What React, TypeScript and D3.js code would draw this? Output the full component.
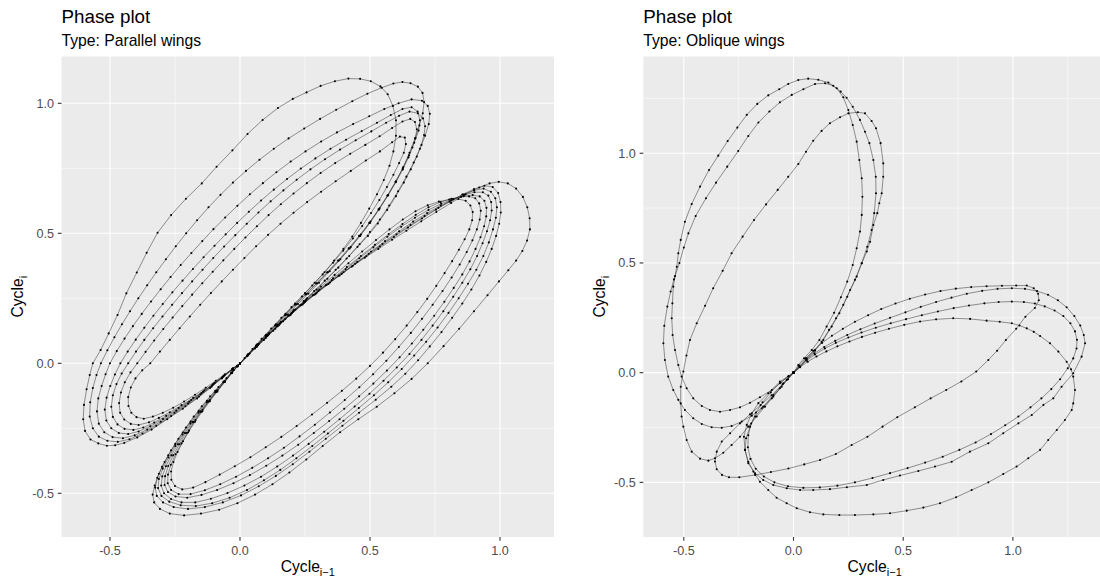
import React, { useEffect } from "react";
import * as d3 from "d3";

type Pt = [number, number];

// ---------- Parallel wings: upper-left lobe loops ----------
const parallelUpper1: Pt[] = [[0,0],[-0.03,-0.025],[-0.07,-0.058],[-0.115,-0.095],[-0.165,-0.135],[-0.22,-0.175],[-0.28,-0.215],[-0.34,-0.255],[-0.395,-0.285],[-0.445,-0.306],[-0.48,-0.315],[-0.512,-0.317],[-0.545,-0.308],[-0.575,-0.293],[-0.596,-0.26],[-0.603,-0.215],[-0.6,-0.16],[-0.59,-0.1],[-0.578,-0.045],[-0.566,0],[-0.536,0.051],[-0.505,0.115],[-0.471,0.186],[-0.437,0.269],[-0.397,0.349],[-0.359,0.425],[-0.317,0.502],[-0.265,0.57],[-0.208,0.633],[-0.147,0.692],[-0.09,0.756],[-0.029,0.819],[0.029,0.882],[0.087,0.936],[0.146,0.982],[0.203,1.017],[0.256,1.042],[0.31,1.067],[0.365,1.085],[0.417,1.095],[0.462,1.094],[0.503,1.085],[0.54,1.065],[0.568,1.035],[0.588,0.99],[0.6,0.935],[0.6,0.875],[0.59,0.815],[0.575,0.76],[0.553,0.705],[0.527,0.65],[0.497,0.595],[0.465,0.54],[0.432,0.488],[0.398,0.44],[0.362,0.395],[0.325,0.35],[0.287,0.31],[0.25,0.27],[0.212,0.23],[0.175,0.19],[0.138,0.15],[0.1,0.11],[0.065,0.072],[0.032,0.036],[0,0]];
const parallelUpper2: Pt[] = [[0,0],[-0.03,-0.024],[-0.068,-0.055],[-0.11,-0.09],[-0.158,-0.128],[-0.21,-0.165],[-0.265,-0.203],[-0.322,-0.24],[-0.375,-0.27],[-0.425,-0.292],[-0.47,-0.302],[-0.51,-0.298],[-0.543,-0.282],[-0.566,-0.25],[-0.578,-0.205],[-0.576,-0.15],[-0.566,-0.095],[-0.552,-0.045],[-0.535,0],[-0.51,0.05],[-0.483,0.1],[-0.454,0.15],[-0.423,0.2],[-0.391,0.25],[-0.357,0.3],[-0.322,0.35],[-0.285,0.4],[-0.247,0.45],[-0.207,0.5],[-0.165,0.55],[-0.121,0.6],[-0.075,0.648],[-0.027,0.695],[0.023,0.74],[0.075,0.783],[0.13,0.825],[0.187,0.865],[0.247,0.903],[0.308,0.94],[0.37,0.975],[0.432,1.008],[0.49,1.037],[0.545,1.06],[0.59,1.076],[0.625,1.082],[0.656,1.077],[0.684,1.064],[0.702,1.04],[0.708,1.005],[0.703,0.962],[0.69,0.915],[0.673,0.865],[0.652,0.81],[0.628,0.755],[0.6,0.7],[0.568,0.645],[0.535,0.592],[0.5,0.54],[0.462,0.49],[0.422,0.442],[0.38,0.395],[0.338,0.35],[0.296,0.308],[0.256,0.267],[0.216,0.227],[0.177,0.187],[0.138,0.147],[0.1,0.107],[0.064,0.068],[0.03,0.032],[0,0]];
const parallelUpper3: Pt[] = [[0,0],[-0.03,-0.023],[-0.066,-0.052],[-0.107,-0.085],[-0.152,-0.12],[-0.2,-0.155],[-0.252,-0.19],[-0.305,-0.225],[-0.357,-0.255],[-0.405,-0.277],[-0.45,-0.288],[-0.49,-0.284],[-0.522,-0.265],[-0.543,-0.232],[-0.55,-0.185],[-0.545,-0.135],[-0.532,-0.087],[-0.517,-0.042],[-0.5,0],[-0.474,0.047],[-0.444,0.095],[-0.412,0.143],[-0.378,0.19],[-0.342,0.238],[-0.305,0.285],[-0.267,0.332],[-0.228,0.378],[-0.187,0.424],[-0.145,0.47],[-0.102,0.516],[-0.057,0.561],[-0.01,0.606],[0.038,0.65],[0.088,0.693],[0.14,0.735],[0.195,0.776],[0.252,0.815],[0.312,0.853],[0.373,0.888],[0.435,0.92],[0.497,0.95],[0.555,0.978],[0.61,1.0],[0.66,1.015],[0.7,1.01],[0.722,0.99],[0.73,0.96],[0.726,0.92],[0.712,0.875],[0.692,0.825],[0.668,0.772],[0.64,0.718],[0.608,0.662],[0.574,0.607],[0.538,0.553],[0.5,0.505],[0.46,0.458],[0.42,0.413],[0.378,0.368],[0.336,0.325],[0.294,0.284],[0.253,0.245],[0.213,0.207],[0.174,0.17],[0.136,0.133],[0.099,0.097],[0.064,0.063],[0.03,0.03],[0,0]];
const parallelUpper4: Pt[] = [[0,0],[-0.029,-0.022],[-0.064,-0.05],[-0.104,-0.081],[-0.148,-0.114],[-0.195,-0.148],[-0.245,-0.182],[-0.296,-0.214],[-0.345,-0.242],[-0.39,-0.262],[-0.43,-0.272],[-0.466,-0.268],[-0.495,-0.25],[-0.514,-0.22],[-0.52,-0.178],[-0.513,-0.132],[-0.499,-0.087],[-0.481,-0.043],[-0.46,0],[-0.432,0.045],[-0.401,0.091],[-0.368,0.137],[-0.333,0.183],[-0.297,0.228],[-0.26,0.273],[-0.221,0.318],[-0.181,0.363],[-0.14,0.408],[-0.098,0.452],[-0.055,0.496],[-0.011,0.54],[0.034,0.583],[0.081,0.626],[0.13,0.668],[0.181,0.709],[0.234,0.749],[0.29,0.788],[0.348,0.825],[0.408,0.86],[0.468,0.893],[0.527,0.925],[0.58,0.955],[0.625,0.978],[0.66,0.985],[0.683,0.968],[0.692,0.935],[0.687,0.895],[0.67,0.848],[0.65,0.8],[0.626,0.75],[0.598,0.698],[0.567,0.645],[0.533,0.592],[0.497,0.54],[0.458,0.49],[0.418,0.442],[0.377,0.395],[0.335,0.35],[0.293,0.307],[0.252,0.265],[0.212,0.225],[0.173,0.185],[0.135,0.145],[0.098,0.106],[0.062,0.068],[0.03,0.033],[0,0]];
const parallelUpper5: Pt[] = [[0,0],[-0.028,-0.021],[-0.062,-0.048],[-0.1,-0.078],[-0.142,-0.109],[-0.188,-0.141],[-0.236,-0.172],[-0.284,-0.202],[-0.33,-0.228],[-0.372,-0.247],[-0.41,-0.256],[-0.444,-0.252],[-0.471,-0.235],[-0.489,-0.206],[-0.495,-0.167],[-0.489,-0.123],[-0.475,-0.08],[-0.455,-0.039],[-0.43,0],[-0.4,0.045],[-0.368,0.09],[-0.334,0.135],[-0.298,0.18],[-0.261,0.225],[-0.223,0.27],[-0.184,0.315],[-0.144,0.36],[-0.103,0.405],[-0.061,0.449],[-0.018,0.493],[0.026,0.537],[0.071,0.58],[0.118,0.623],[0.167,0.665],[0.218,0.706],[0.271,0.746],[0.327,0.785],[0.385,0.822],[0.445,0.858],[0.505,0.892],[0.562,0.925],[0.612,0.952],[0.652,0.968],[0.684,0.962],[0.704,0.942],[0.712,0.912],[0.708,0.878],[0.698,0.84],[0.68,0.795],[0.657,0.746],[0.63,0.695],[0.6,0.643],[0.566,0.59],[0.53,0.538],[0.492,0.49],[0.452,0.448],[0.41,0.403],[0.368,0.36],[0.326,0.318],[0.285,0.278],[0.245,0.239],[0.205,0.2],[0.166,0.162],[0.128,0.125],[0.092,0.09],[0.058,0.057],[0.027,0.027],[0,0]];
const parallelUpper6: Pt[] = [[0,0],[-0.027,-0.02],[-0.06,-0.046],[-0.097,-0.075],[-0.137,-0.104],[-0.18,-0.133],[-0.225,-0.161],[-0.27,-0.188],[-0.312,-0.21],[-0.35,-0.227],[-0.39,-0.237],[-0.42,-0.233],[-0.445,-0.216],[-0.461,-0.19],[-0.465,-0.153],[-0.458,-0.112],[-0.443,-0.073],[-0.421,-0.035],[-0.395,0],[-0.363,0.044],[-0.33,0.088],[-0.295,0.132],[-0.259,0.176],[-0.222,0.22],[-0.184,0.264],[-0.145,0.308],[-0.105,0.352],[-0.064,0.396],[-0.022,0.44],[0.021,0.484],[0.065,0.527],[0.11,0.57],[0.157,0.612],[0.206,0.653],[0.257,0.693],[0.31,0.732],[0.366,0.77],[0.424,0.806],[0.482,0.84],[0.537,0.873],[0.585,0.905],[0.625,0.93],[0.655,0.94],[0.673,0.928],[0.68,0.9],[0.675,0.866],[0.663,0.83],[0.648,0.792],[0.626,0.745],[0.6,0.697],[0.57,0.647],[0.537,0.596],[0.502,0.545],[0.465,0.495],[0.426,0.447],[0.386,0.4],[0.345,0.354],[0.304,0.31],[0.263,0.268],[0.223,0.228],[0.184,0.188],[0.146,0.149],[0.108,0.111],[0.072,0.074],[0.037,0.038],[0,0]];
const parallelUpper7: Pt[] = [[0,0],[-0.027,-0.019],[-0.058,-0.042],[-0.093,-0.067],[-0.132,-0.094],[-0.173,-0.121],[-0.215,-0.147],[-0.257,-0.171],[-0.297,-0.19],[-0.335,-0.205],[-0.37,-0.213],[-0.398,-0.207],[-0.418,-0.19],[-0.429,-0.164],[-0.43,-0.13],[-0.42,-0.093],[-0.402,-0.058],[-0.376,-0.027],[-0.345,0],[-0.308,0.045],[-0.27,0.09],[-0.232,0.135],[-0.193,0.18],[-0.153,0.225],[-0.112,0.27],[-0.07,0.315],[-0.027,0.36],[0.017,0.405],[0.062,0.45],[0.108,0.494],[0.156,0.537],[0.206,0.579],[0.258,0.62],[0.312,0.66],[0.368,0.7],[0.426,0.74],[0.484,0.78],[0.538,0.815],[0.585,0.85],[0.615,0.872],[0.634,0.868],[0.638,0.843],[0.63,0.81],[0.612,0.77],[0.59,0.725],[0.565,0.678],[0.536,0.628],[0.504,0.578],[0.47,0.528],[0.434,0.48],[0.397,0.433],[0.358,0.387],[0.318,0.342],[0.278,0.299],[0.238,0.257],[0.198,0.216],[0.159,0.175],[0.12,0.134],[0.083,0.094],[0.048,0.055],[0.018,0.02],[0,0]];

// ---------- Parallel wings: lower-right lobe loops ----------
const parallelLower1: Pt[] = [[0,0],[0.028,0.03],[0.062,0.064],[0.1,0.102],[0.142,0.142],[0.186,0.183],[0.232,0.223],[0.28,0.262],[0.33,0.3],[0.38,0.337],[0.43,0.372],[0.48,0.406],[0.532,0.44],[0.585,0.475],[0.64,0.51],[0.697,0.546],[0.755,0.582],[0.812,0.617],[0.868,0.65],[0.92,0.676],[0.96,0.692],[0.995,0.698],[1.03,0.692],[1.062,0.672],[1.088,0.64],[1.105,0.6],[1.114,0.558],[1.115,0.515],[1.104,0.472],[1.086,0.432],[1.062,0.395],[1.032,0.358],[0.996,0.315],[0.952,0.262],[0.9,0.2],[0.843,0.133],[0.783,0.066],[0.722,0],[0.66,-0.06],[0.594,-0.115],[0.526,-0.167],[0.455,-0.215],[0.385,-0.265],[0.318,-0.318],[0.255,-0.37],[0.19,-0.42],[0.125,-0.465],[0.058,-0.505],[-0.01,-0.538],[-0.08,-0.563],[-0.15,-0.578],[-0.215,-0.585],[-0.27,-0.578],[-0.308,-0.56],[-0.33,-0.535],[-0.336,-0.505],[-0.328,-0.47],[-0.312,-0.425],[-0.29,-0.38],[-0.265,-0.335],[-0.237,-0.29],[-0.208,-0.247],[-0.178,-0.205],[-0.147,-0.165],[-0.115,-0.127],[-0.083,-0.091],[-0.052,-0.057],[-0.024,-0.026],[0,0]];
const parallelLower2: Pt[] = [[0,0],[0.03,0.031],[0.065,0.066],[0.104,0.104],[0.146,0.144],[0.19,0.184],[0.236,0.224],[0.284,0.263],[0.333,0.301],[0.383,0.338],[0.434,0.375],[0.486,0.412],[0.538,0.449],[0.592,0.486],[0.646,0.522],[0.7,0.557],[0.754,0.591],[0.806,0.622],[0.855,0.649],[0.9,0.67],[0.94,0.683],[0.972,0.678],[0.993,0.655],[1.002,0.62],[1.003,0.58],[0.997,0.537],[0.985,0.49],[0.968,0.44],[0.947,0.39],[0.921,0.338],[0.89,0.284],[0.855,0.23],[0.816,0.175],[0.775,0.12],[0.73,0.065],[0.685,0.012],[0.636,-0.04],[0.582,-0.09],[0.522,-0.14],[0.458,-0.19],[0.394,-0.24],[0.33,-0.29],[0.267,-0.34],[0.203,-0.388],[0.138,-0.433],[0.072,-0.473],[0.004,-0.508],[-0.066,-0.535],[-0.135,-0.553],[-0.2,-0.56],[-0.255,-0.553],[-0.296,-0.535],[-0.32,-0.51],[-0.326,-0.478],[-0.318,-0.44],[-0.3,-0.398],[-0.276,-0.354],[-0.249,-0.31],[-0.22,-0.266],[-0.19,-0.224],[-0.159,-0.183],[-0.127,-0.144],[-0.095,-0.106],[-0.063,-0.07],[-0.033,-0.036],[-0.01,-0.011],[0,0]];
const parallelLower3: Pt[] = [[0,0],[0.03,0.031],[0.066,0.067],[0.106,0.106],[0.149,0.146],[0.194,0.186],[0.241,0.226],[0.29,0.266],[0.34,0.305],[0.391,0.344],[0.443,0.383],[0.495,0.421],[0.548,0.459],[0.602,0.496],[0.656,0.532],[0.71,0.566],[0.763,0.598],[0.813,0.626],[0.858,0.649],[0.9,0.665],[0.937,0.672],[0.965,0.66],[0.982,0.635],[0.988,0.6],[0.984,0.56],[0.973,0.515],[0.957,0.465],[0.936,0.413],[0.909,0.36],[0.877,0.306],[0.841,0.25],[0.802,0.194],[0.76,0.138],[0.716,0.083],[0.67,0.03],[0.622,-0.022],[0.57,-0.073],[0.515,-0.123],[0.457,-0.172],[0.398,-0.221],[0.338,-0.27],[0.278,-0.318],[0.217,-0.365],[0.155,-0.41],[0.092,-0.45],[0.027,-0.487],[-0.04,-0.517],[-0.107,-0.538],[-0.17,-0.549],[-0.228,-0.546],[-0.272,-0.532],[-0.302,-0.51],[-0.315,-0.48],[-0.312,-0.445],[-0.297,-0.405],[-0.275,-0.362],[-0.249,-0.318],[-0.221,-0.274],[-0.191,-0.231],[-0.16,-0.19],[-0.128,-0.15],[-0.096,-0.111],[-0.064,-0.073],[-0.034,-0.038],[-0.01,-0.012],[0,0]];
const parallelLower4: Pt[] = [[0,0],[0.031,0.032],[0.067,0.069],[0.107,0.109],[0.151,0.15],[0.197,0.191],[0.245,0.231],[0.295,0.271],[0.346,0.311],[0.398,0.35],[0.451,0.39],[0.504,0.43],[0.558,0.47],[0.612,0.508],[0.666,0.545],[0.72,0.578],[0.772,0.607],[0.82,0.63],[0.864,0.648],[0.902,0.658],[0.934,0.658],[0.955,0.645],[0.966,0.62],[0.968,0.588],[0.962,0.55],[0.95,0.508],[0.933,0.462],[0.912,0.413],[0.886,0.362],[0.855,0.31],[0.82,0.256],[0.782,0.2],[0.741,0.145],[0.698,0.09],[0.652,0.036],[0.603,-0.016],[0.552,-0.067],[0.498,-0.117],[0.441,-0.166],[0.383,-0.215],[0.324,-0.263],[0.264,-0.31],[0.204,-0.355],[0.143,-0.397],[0.081,-0.436],[0.017,-0.47],[-0.048,-0.499],[-0.112,-0.521],[-0.172,-0.535],[-0.225,-0.535],[-0.265,-0.522],[-0.292,-0.5],[-0.303,-0.47],[-0.299,-0.435],[-0.285,-0.396],[-0.264,-0.354],[-0.239,-0.311],[-0.212,-0.268],[-0.183,-0.226],[-0.153,-0.186],[-0.122,-0.147],[-0.091,-0.109],[-0.061,-0.072],[-0.032,-0.037],[-0.01,-0.011],[0,0]];
const parallelLower5: Pt[] = [[0,0],[0.031,0.032],[0.068,0.07],[0.109,0.11],[0.153,0.152],[0.2,0.194],[0.25,0.236],[0.301,0.278],[0.353,0.32],[0.406,0.362],[0.459,0.404],[0.513,0.446],[0.567,0.487],[0.62,0.525],[0.673,0.56],[0.725,0.59],[0.774,0.614],[0.82,0.632],[0.86,0.643],[0.895,0.647],[0.922,0.642],[0.94,0.625],[0.948,0.598],[0.947,0.565],[0.939,0.527],[0.925,0.485],[0.906,0.44],[0.883,0.392],[0.855,0.342],[0.822,0.29],[0.786,0.237],[0.747,0.183],[0.705,0.129],[0.661,0.076],[0.614,0.023],[0.565,-0.028],[0.513,-0.078],[0.458,-0.127],[0.401,-0.175],[0.343,-0.222],[0.284,-0.268],[0.224,-0.313],[0.163,-0.355],[0.101,-0.394],[0.038,-0.43],[-0.025,-0.461],[-0.088,-0.487],[-0.148,-0.506],[-0.203,-0.517],[-0.248,-0.512],[-0.277,-0.495],[-0.29,-0.468],[-0.288,-0.434],[-0.276,-0.395],[-0.257,-0.354],[-0.233,-0.311],[-0.207,-0.268],[-0.179,-0.226],[-0.15,-0.186],[-0.12,-0.147],[-0.09,-0.109],[-0.06,-0.072],[-0.032,-0.037],[-0.01,-0.011],[0,0]];
const parallelLower6: Pt[] = [[0,0],[0.032,0.033],[0.069,0.071],[0.11,0.112],[0.155,0.155],[0.203,0.198],[0.253,0.241],[0.305,0.284],[0.358,0.327],[0.411,0.37],[0.465,0.413],[0.519,0.456],[0.572,0.497],[0.625,0.536],[0.676,0.571],[0.725,0.6],[0.771,0.62],[0.813,0.633],[0.85,0.64],[0.881,0.642],[0.905,0.635],[0.92,0.615],[0.926,0.587],[0.922,0.553],[0.911,0.515],[0.894,0.473],[0.872,0.428],[0.845,0.38],[0.814,0.33],[0.779,0.278],[0.741,0.225],[0.7,0.171],[0.657,0.117],[0.611,0.063],[0.563,0.01],[0.512,-0.042],[0.459,-0.092],[0.403,-0.141],[0.346,-0.189],[0.288,-0.236],[0.229,-0.281],[0.169,-0.325],[0.108,-0.365],[0.047,-0.402],[-0.015,-0.436],[-0.076,-0.465],[-0.135,-0.488],[-0.19,-0.503],[-0.236,-0.503],[-0.265,-0.487],[-0.278,-0.461],[-0.277,-0.428],[-0.266,-0.39],[-0.248,-0.35],[-0.225,-0.308],[-0.2,-0.266],[-0.173,-0.225],[-0.145,-0.185],[-0.116,-0.146],[-0.087,-0.108],[-0.058,-0.072],[-0.031,-0.037],[-0.009,-0.011],[0,0]];
const parallelLower7: Pt[] = [[0,0],[0.032,0.034],[0.07,0.073],[0.112,0.116],[0.158,0.16],[0.207,0.205],[0.258,0.25],[0.311,0.295],[0.364,0.34],[0.417,0.385],[0.47,0.43],[0.523,0.474],[0.575,0.515],[0.626,0.553],[0.675,0.585],[0.722,0.608],[0.765,0.622],[0.805,0.63],[0.84,0.632],[0.868,0.625],[0.886,0.607],[0.895,0.582],[0.893,0.55],[0.882,0.515],[0.864,0.477],[0.842,0.437],[0.816,0.393],[0.787,0.347],[0.755,0.298],[0.72,0.248],[0.682,0.197],[0.641,0.145],[0.597,0.093],[0.55,0.041],[0.5,-0.01],[0.447,-0.059],[0.392,-0.106],[0.335,-0.152],[0.277,-0.197],[0.218,-0.241],[0.159,-0.283],[0.099,-0.323],[0.04,-0.361],[-0.02,-0.396],[-0.078,-0.428],[-0.133,-0.457],[-0.18,-0.478],[-0.222,-0.485],[-0.25,-0.472],[-0.264,-0.448],[-0.265,-0.416],[-0.256,-0.38],[-0.24,-0.341],[-0.219,-0.3],[-0.196,-0.259],[-0.171,-0.218],[-0.144,-0.179],[-0.116,-0.141],[-0.087,-0.104],[-0.058,-0.069],[-0.03,-0.035],[-0.009,-0.01],[0,0]];

// ---------- Oblique wings: upper lobe loops ----------
const obliqueUpper1: Pt[] = [[0,0],[-0.024,-0.018],[-0.062,-0.048],[-0.099,-0.079],[-0.153,-0.112],[-0.198,-0.137],[-0.244,-0.158],[-0.289,-0.17],[-0.335,-0.178],[-0.381,-0.17],[-0.418,-0.152],[-0.457,-0.117],[-0.487,-0.071],[-0.51,-0.018],[-0.525,0.035],[-0.54,0.103],[-0.551,0.172],[-0.555,0.248],[-0.552,0.316],[-0.548,0.392],[-0.54,0.44],[-0.532,0.483],[-0.525,0.544],[-0.514,0.605],[-0.495,0.688],[-0.464,0.769],[-0.426,0.848],[-0.385,0.924],[-0.343,0.989],[-0.3,1.056],[-0.256,1.117],[-0.213,1.175],[-0.165,1.225],[-0.115,1.264],[-0.065,1.292],[-0.024,1.316],[0.022,1.334],[0.067,1.34],[0.113,1.335],[0.159,1.322],[0.197,1.296],[0.227,1.255],[0.25,1.197],[0.27,1.129],[0.288,1.053],[0.3,0.969],[0.311,0.886],[0.314,0.802],[0.311,0.719],[0.303,0.643],[0.288,0.567],[0.27,0.491],[0.245,0.415],[0.216,0.344],[0.185,0.273],[0.151,0.21],[0.118,0.149],[0.083,0.103],[0.048,0.066],[0.022,0.035],[0,0]];
const obliqueUpper2: Pt[] = [[0,0],[-0.031,-0.033],[-0.062,-0.071],[-0.099,-0.117],[-0.145,-0.162],[-0.19,-0.196],[-0.236,-0.223],[-0.282,-0.243],[-0.327,-0.251],[-0.373,-0.249],[-0.418,-0.234],[-0.457,-0.208],[-0.495,-0.17],[-0.525,-0.124],[-0.548,-0.079],[-0.571,-0.018],[-0.586,0.058],[-0.593,0.134],[-0.589,0.214],[-0.575,0.301],[-0.56,0.37],[-0.545,0.425],[-0.52,0.5],[-0.5,0.57],[-0.479,0.635],[-0.446,0.714],[-0.399,0.795],[-0.353,0.866],[-0.302,0.939],[-0.252,1.01],[-0.206,1.079],[-0.16,1.14],[-0.11,1.19],[-0.062,1.232],[-0.008,1.266],[0.045,1.292],[0.098,1.316],[0.144,1.319],[0.181,1.308],[0.215,1.281],[0.242,1.253],[0.27,1.212],[0.303,1.152],[0.326,1.098],[0.346,1.046],[0.364,0.969],[0.375,0.893],[0.376,0.818],[0.368,0.727],[0.356,0.65],[0.336,0.574],[0.311,0.499],[0.28,0.423],[0.245,0.346],[0.209,0.271],[0.174,0.21],[0.136,0.149],[0.098,0.1],[0.06,0.061],[0.03,0.027],[0,0]];
const obliqueUpper3: Pt[] = [[0,0],[-0.025,-0.03],[-0.054,-0.064],[-0.092,-0.109],[-0.13,-0.155],[-0.168,-0.2],[-0.206,-0.246],[-0.244,-0.292],[-0.282,-0.33],[-0.32,-0.365],[-0.358,-0.39],[-0.388,-0.401],[-0.426,-0.392],[-0.464,-0.36],[-0.487,-0.307],[-0.502,-0.246],[-0.51,-0.2],[-0.514,-0.14],[-0.514,-0.064],[-0.502,0.005],[-0.488,0.078],[-0.472,0.149],[-0.441,0.225],[-0.403,0.305],[-0.366,0.385],[-0.323,0.464],[-0.282,0.544],[-0.232,0.62],[-0.18,0.696],[-0.125,0.767],[-0.072,0.833],[-0.024,0.893],[0.022,0.951],[0.057,1.007],[0.09,1.057],[0.128,1.102],[0.166,1.137],[0.212,1.164],[0.25,1.182],[0.293,1.187],[0.326,1.182],[0.356,1.147],[0.376,1.114],[0.397,1.046],[0.409,0.954],[0.409,0.893],[0.402,0.818],[0.391,0.772],[0.382,0.727],[0.364,0.673],[0.349,0.597],[0.334,0.552],[0.311,0.499],[0.288,0.438],[0.258,0.377],[0.227,0.309],[0.194,0.248],[0.162,0.195],[0.128,0.141],[0.098,0.103],[0.06,0.066],[0.03,0.027],[0,0]];

// ---------- Oblique wings: lower lobe loops ----------
const obliqueLower1: Pt[] = [[0,0],[0.03,0.025],[0.065,0.05],[0.105,0.074],[0.15,0.097],[0.2,0.12],[0.255,0.142],[0.312,0.163],[0.372,0.182],[0.435,0.2],[0.505,0.218],[0.577,0.233],[0.65,0.243],[0.728,0.248],[0.805,0.245],[0.88,0.237],[0.94,0.232],[0.995,0.225],[1.03,0.215],[1.063,0.202],[1.095,0.186],[1.124,0.167],[1.169,0.134],[1.207,0.096],[1.245,0.05],[1.265,0.015],[1.275,-0.018],[1.283,-0.079],[1.275,-0.14],[1.268,-0.17],[1.237,-0.216],[1.2,-0.261],[1.161,-0.307],[1.124,-0.352],[1.07,-0.39],[1.017,-0.428],[0.956,-0.462],[0.888,-0.5],[0.812,-0.535],[0.741,-0.568],[0.668,-0.595],[0.592,-0.615],[0.516,-0.629],[0.44,-0.641],[0.364,-0.646],[0.28,-0.649],[0.209,-0.649],[0.136,-0.646],[0.075,-0.636],[0.015,-0.618],[-0.031,-0.595],[-0.077,-0.57],[-0.115,-0.535],[-0.153,-0.497],[-0.183,-0.451],[-0.206,-0.406],[-0.221,-0.352],[-0.216,-0.299],[-0.198,-0.246],[-0.175,-0.2],[-0.138,-0.155],[-0.092,-0.102],[-0.046,-0.048],[0,0]];
const obliqueLower2: Pt[] = [[0,0],[0.027,0.028],[0.058,0.058],[0.095,0.088],[0.14,0.117],[0.19,0.145],[0.245,0.172],[0.305,0.198],[0.37,0.224],[0.44,0.25],[0.51,0.275],[0.58,0.3],[0.65,0.322],[0.72,0.342],[0.79,0.36],[0.86,0.373],[0.93,0.382],[0.995,0.385],[1.055,0.382],[1.11,0.372],[1.16,0.355],[1.205,0.33],[1.245,0.298],[1.28,0.258],[1.307,0.215],[1.323,0.172],[1.329,0.134],[1.313,0.073],[1.275,-0.003],[1.222,-0.064],[1.184,-0.117],[1.139,-0.147],[1.086,-0.193],[1.025,-0.231],[0.956,-0.276],[0.888,-0.322],[0.804,-0.36],[0.721,-0.406],[0.645,-0.428],[0.569,-0.448],[0.485,-0.469],[0.409,-0.489],[0.334,-0.512],[0.243,-0.522],[0.166,-0.531],[0.09,-0.535],[0.03,-0.535],[-0.031,-0.527],[-0.092,-0.512],[-0.138,-0.489],[-0.175,-0.459],[-0.206,-0.413],[-0.221,-0.352],[-0.226,-0.292],[-0.213,-0.238],[-0.19,-0.185],[-0.16,-0.139],[-0.115,-0.094],[-0.062,-0.041],[0,0]];
const obliqueLower3: Pt[] = [[0,0],[0.028,0.027],[0.06,0.055],[0.098,0.083],[0.143,0.11],[0.193,0.136],[0.25,0.16],[0.31,0.183],[0.375,0.205],[0.443,0.225],[0.513,0.244],[0.585,0.262],[0.658,0.279],[0.73,0.294],[0.8,0.306],[0.87,0.316],[0.935,0.322],[0.995,0.324],[1.05,0.322],[1.1,0.315],[1.145,0.302],[1.19,0.283],[1.23,0.258],[1.262,0.225],[1.283,0.188],[1.292,0.15],[1.29,0.11],[1.275,0.065],[1.25,0.02],[1.215,-0.03],[1.175,-0.075],[1.13,-0.117],[1.08,-0.158],[1.025,-0.2],[0.965,-0.24],[0.9,-0.28],[0.83,-0.318],[0.756,-0.352],[0.68,-0.383],[0.6,-0.41],[0.52,-0.435],[0.44,-0.458],[0.36,-0.48],[0.28,-0.5],[0.2,-0.515],[0.12,-0.523],[0.045,-0.525],[-0.025,-0.518],[-0.087,-0.5],[-0.135,-0.473],[-0.172,-0.438],[-0.196,-0.393],[-0.208,-0.34],[-0.206,-0.285],[-0.193,-0.232],[-0.171,-0.182],[-0.141,-0.135],[-0.104,-0.09],[-0.059,-0.045],[-0.022,-0.015],[0,0]];
const obliqueLower4: Pt[] = [[0,0],[0.025,0.032],[0.055,0.065],[0.09,0.1],[0.13,0.135],[0.175,0.168],[0.225,0.2],[0.28,0.232],[0.34,0.262],[0.4,0.29],[0.465,0.315],[0.53,0.337],[0.6,0.356],[0.67,0.372],[0.74,0.383],[0.81,0.39],[0.88,0.394],[0.95,0.396],[1.015,0.397],[1.063,0.397],[1.095,0.385],[1.115,0.36],[1.118,0.33],[1.1,0.295],[1.057,0.255],[1.015,0.2],[0.968,0.149],[0.928,0.1],[0.888,0.058],[0.833,0.005],[0.765,-0.04],[0.696,-0.079],[0.625,-0.117],[0.553,-0.158],[0.473,-0.203],[0.406,-0.246],[0.337,-0.292],[0.265,-0.33],[0.193,-0.371],[0.121,-0.398],[0.049,-0.418],[-0.023,-0.437],[-0.103,-0.453],[-0.175,-0.466],[-0.247,-0.477],[-0.294,-0.477],[-0.326,-0.466],[-0.35,-0.44],[-0.358,-0.405],[-0.35,-0.36],[-0.327,-0.314],[-0.289,-0.276],[-0.244,-0.231],[-0.198,-0.19],[-0.15,-0.148],[-0.1,-0.103],[-0.05,-0.053],[0,0]];

// ---------- Axes ----------
const majorTicks = [-0.5, 0, 0.5, 1.0];
const tickLabels = ["-0.5", "0.0", "0.5", "1.0"];
const minorTicks = [-0.75, -0.25, 0.25, 0.75, 1.25];
const titleText = "Phase plot";
const subtitles = ["Type: Parallel wings", "Type: Oblique wings"];

const parallelLoops = [parallelUpper1, parallelUpper2, parallelUpper3, parallelUpper4, parallelUpper5, parallelUpper6, parallelUpper7,
  parallelLower1, parallelLower2, parallelLower3, parallelLower4, parallelLower5, parallelLower6, parallelLower7];
const obliqueLoops = [obliqueUpper1, obliqueUpper2, obliqueUpper3, obliqueLower1, obliqueLower2, obliqueLower3, obliqueLower4];

const FONT = "'Liberation Sans', Arial, Helvetica, sans-serif";

interface PanelCfg {
  id: string;
  subtitle: string;
  loops: Pt[][];
  xDomain: [number, number];
  xRange: [number, number];
  yDomain: [number, number];
  yRange: [number, number];
}

const panels: PanelCfg[] = [
  { id: "p1", subtitle: subtitles[0], loops: parallelLoops, xDomain: [-0.6865, 1.2077], xRange: [61.5, 554], yDomain: [-0.668, 1.18], yRange: [537, 56.5] },
  { id: "p2", subtitle: subtitles[1], loops: obliqueLoops, xDomain: [-0.6846, 1.4243], xRange: [643.3, 1106], yDomain: [-0.749, 1.441], yRange: [537, 56.5] },
];

function Panel({ cfg }: { cfg: PanelCfg }) {
  const x = d3.scaleLinear().domain(cfg.xDomain).range(cfg.xRange);
  const y = d3.scaleLinear().domain(cfg.yDomain).range(cfg.yRange);
  const [x0, x1] = cfg.xRange;
  const [y1, y0] = cfg.yRange;
  const line = d3.line<Pt>().x((d) => x(d[0])).y((d) => y(d[1]));
  const inX = (v: number) => v >= cfg.xDomain[0] && v <= cfg.xDomain[1];
  const inY = (v: number) => v >= cfg.yDomain[0] && v <= cfg.yDomain[1];
  const cx = (x0 + x1) / 2;
  const cy = (y0 + y1) / 2;
  return (
    <g>
      <defs>
        <clipPath id={`clip-${cfg.id}`}>
          <rect x={x0} y={y0} width={x1 - x0} height={y1 - y0} />
        </clipPath>
      </defs>
      <rect x={x0} y={y0} width={x1 - x0} height={y1 - y0} fill="#EBEBEB" />
      {minorTicks.filter(inX).map((v) => (
        <line key={`mx${v}`} x1={x(v)} x2={x(v)} y1={y0} y2={y1} stroke="#fff" strokeWidth={0.55} />
      ))}
      {minorTicks.filter(inY).map((v) => (
        <line key={`my${v}`} y1={y(v)} y2={y(v)} x1={x0} x2={x1} stroke="#fff" strokeWidth={0.55} />
      ))}
      {majorTicks.map((v) => (
        <line key={`Mx${v}`} x1={x(v)} x2={x(v)} y1={y0} y2={y1} stroke="#fff" strokeWidth={1.1} />
      ))}
      {majorTicks.map((v) => (
        <line key={`My${v}`} y1={y(v)} y2={y(v)} x1={x0} x2={x1} stroke="#fff" strokeWidth={1.1} />
      ))}
      <g clipPath={`url(#clip-${cfg.id})`}>
        {cfg.loops.map((lp, i) => (
          <path key={`l${i}`} d={line(lp) || ""} fill="none" stroke="#2b2b2b" strokeWidth={0.5} />
        ))}
        {cfg.loops.map((lp, i) =>
          lp.map((p, j) => <circle key={`c${i}-${j}`} cx={x(p[0])} cy={y(p[1])} r={1.05} fill="#000" />)
        )}
      </g>
      {majorTicks.map((v, i) => (
        <g key={`tx${v}`}>
          <line x1={x(v)} x2={x(v)} y1={y1} y2={y1 + 3.7} stroke="#333" strokeWidth={1.1} />
          <text x={x(v)} y={555} textAnchor="middle" fontSize={12.6} fill="#4D4D4D" fontFamily={FONT}>{tickLabels[i]}</text>
        </g>
      ))}
      {majorTicks.map((v, i) => (
        <g key={`ty${v}`}>
          <line x1={x0 - 3.7} x2={x0} y1={y(v)} y2={y(v)} stroke="#333" strokeWidth={1.1} />
          <text x={x0 - 7.5} y={y(v) + 4.4} textAnchor="end" fontSize={12.6} fill="#4D4D4D" fontFamily={FONT}>{tickLabels[i]}</text>
        </g>
      ))}
      <text x={x0} y={22.5} fontSize={18.8} fill="#000" fontFamily={FONT}>{titleText}</text>
      <text x={x0} y={45.5} fontSize={15.7} fill="#000" fontFamily={FONT}>{cfg.subtitle}</text>
      <text x={cx} y={572} textAnchor="middle" fontSize={15.7} fill="#000" fontFamily={FONT}>
        Cycle<tspan fontSize={11} dy={4}>i−1</tspan>
      </text>
      <text transform={`translate(${x0 - 38.4},${cy}) rotate(-90)`} textAnchor="middle" fontSize={15.7} fill="#000" fontFamily={FONT}>
        Cycle<tspan fontSize={11} dy={4}>i</tspan>
      </text>
    </g>
  );
}

export default function App() {
  useEffect(() => {
    document.body.style.margin = "0";
  }, []);
  return (
    <svg width={1100} height={579} viewBox="0 0 1100 579" style={{ display: "block", position: "absolute", left: 0, top: 0, background: "#fff" }}>
      <rect x={0} y={0} width={1100} height={579} fill="#fff" />
      {panels.map((p) => (
        <Panel key={p.id} cfg={p} />
      ))}
    </svg>
  );
}
